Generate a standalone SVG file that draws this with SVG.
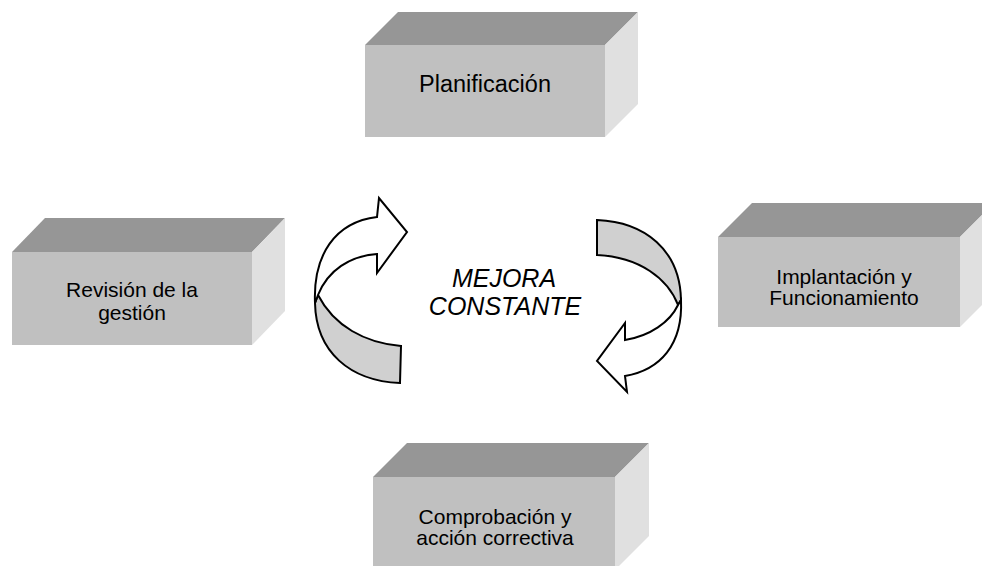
<svg xmlns="http://www.w3.org/2000/svg" width="982" height="566" viewBox="0 0 982 566">
<style>
.front{fill:#c0c0c0}
.top{fill:#969696}
.side{fill:#e0e0e0}
.lbl{font-family:"Liberation Sans",Arial,sans-serif;font-size:21px;fill:#000;text-anchor:middle}
.big{font-size:23.5px}
.mid{font-family:"Liberation Sans",Arial,sans-serif;font-size:25px;font-style:italic;fill:#000;text-anchor:middle}
.arw{stroke:#000;stroke-width:2;stroke-linejoin:miter}
.w{fill:#fff}
.g{fill:#d0d0d0}
</style>
<rect width="982" height="566" fill="#fff"/>
<g id="planificacion">
<polygon class="top" points="365,45 398,12 638,12 605,45"/>
<polygon class="side" points="605,45 638,12 638,104 605,137"/>
<rect class="front" x="365" y="45" width="240" height="92"/>
<text class="lbl big" x="485" y="92">Planificación</text>
</g>
<g id="revision">
<polygon class="top" points="12,252 45,218 285,218 252,252"/>
<polygon class="side" points="252,252 285,218 285,311 252,345"/>
<rect class="front" x="12" y="252" width="240" height="93"/>
<text class="lbl" x="132" y="297">Revisión de la</text>
<text class="lbl" x="132" y="320">gestión</text>
</g>
<g id="implantacion">
<polygon class="top" points="718,237 752,203 994,203 960,237"/>
<polygon class="side" points="960,237 994,203 994,293 960,327"/>
<rect class="front" x="718" y="237" width="242" height="90"/>
<text class="lbl" x="844" y="284">Implantación y</text>
<text class="lbl" x="844" y="305">Funcionamiento</text>
</g>
<g id="comprobacion">
<polygon class="top" points="373,477 407,443 649,443 615,477"/>
<polygon class="side" points="615,477 649,443 649,536 615,570"/>
<rect class="front" x="373" y="477" width="242" height="93"/>
<text class="lbl" x="495" y="524">Comprobación y</text>
<text class="lbl" x="495" y="545">acción correctiva</text>
</g>
<g id="center">
<text class="mid" x="504" y="287">MEJORA</text>
<text class="mid" x="505" y="315">CONSTANTE</text>
</g>
<g id="connectors">
<path class="arw g" d="M318,295 C334,326 365,343 401,346 L400,383 C350,381 316,352 315,303 Z"/>
<path class="arw w" d="M315,303 C313,255 335,222 377,217 L379,198 L407,232 L377,273 L377,254 C350,256 328,270 318,295 Z"/>
<path class="arw g" d="M597,220 C645,222 680,250 681,300 L678,305 C668,279 640,257 597,255 Z"/>
<path class="arw w" d="M681,300 C683,345 660,370 625,376 L627,392 L597,361 L625,323 L625,340 C650,336 670,322 678,305 Z"/>
</g>
</svg>
